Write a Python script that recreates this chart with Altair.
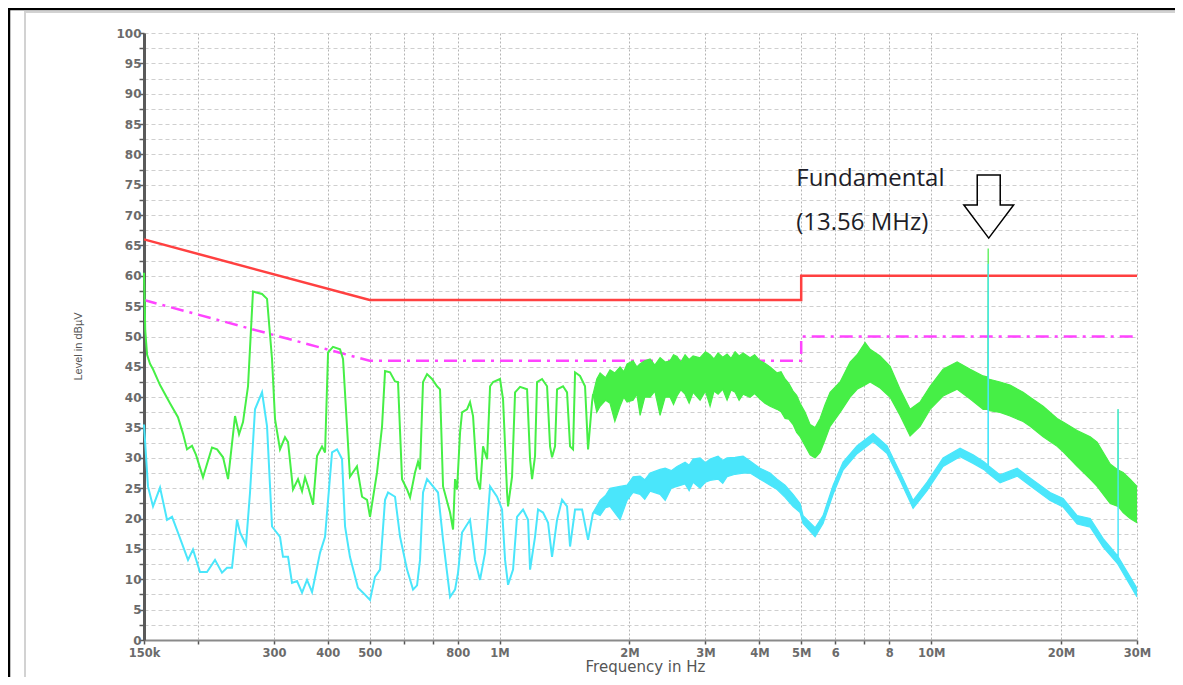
import altair as alt
import pandas as pd

# ---------------- data (frequency in MHz, level in dBuV) ----------------
limit_f = [0.15, 0.5, 5.0, 5.0, 30.0]
qp_limit = [66, 56, 56, 60, 60]
avg_limit = [56, 46, 46, 50, 50]

# green trace, low-frequency part (clean line)
green_low = [
    (0.150, 60.5), (0.1505, 56.0), (0.151, 51.0), (0.1525, 47.0), (0.1549, 45.5),
    (0.1574, 44.6), (0.1634, 42.0), (0.1723, 39.0), (0.1798, 36.7), (0.1847, 34.0),
    (0.1887, 31.4), (0.1938, 32.0), (0.1980, 30.5), (0.2055, 26.8), (0.2156, 31.7),
    (0.2215, 31.4), (0.2287, 30.1), (0.2349, 26.5), (0.2438, 36.9), (0.2491, 33.9),
    (0.2544, 35.9), (0.2613, 41.8), (0.2683, 57.4), (0.2816, 57.0), (0.2892, 56.2),
    (0.2970, 46.3), (0.3018, 36.4), (0.3099, 31.4), (0.3183, 33.4), (0.3235, 32.6),
    (0.3322, 24.8), (0.3412, 26.5), (0.3486, 24.5), (0.3542, 26.8), (0.3599, 25.3),
    (0.3697, 22.3), (0.3776, 30.3), (0.3878, 31.9), (0.3941, 30.9), (0.4005, 47.4),
    (0.4112, 48.3), (0.4269, 47.9), (0.4338, 46.3), (0.4501, 26.9), (0.4672, 28.6),
    (0.4801, 23.6), (0.4931, 23.1), (0.5010, 20.3), (0.5201, 27.6), (0.5342, 35.2),
    (0.5428, 44.3), (0.5575, 44.1), (0.5725, 42.6), (0.5817, 42.5), (0.5943, 26.5),
    (0.6104, 24.8), (0.6203, 23.5), (0.6369, 27.6), (0.6473, 29.4), (0.6542, 28.1),
    (0.6648, 42.5), (0.6792, 43.8), (0.6975, 43.0), (0.7163, 41.8), (0.7279, 41.3),
    (0.7397, 25.3), (0.7679, 21.0), (0.7803, 18.2), (0.7886, 26.5), (0.7971, 24.8),
    (0.8100, 34.2), (0.8186, 37.5), (0.8406, 38.0), (0.8542, 39.2), (0.8681, 36.9),
    (0.8868, 26.5), (0.9011, 24.8), (0.9157, 31.9), (0.9356, 29.8), (0.9507, 41.8),
    (0.9661, 42.5), (1.0025, 43.0), (1.0188, 39.7), (1.0409, 24.3), (1.0464, 22.0),
    (1.0690, 26.9), (1.0863, 40.8), (1.1157, 41.7), (1.1581, 41.3), (1.1768, 29.8),
    (1.1894, 26.5), (1.2084, 30.3), (1.2215, 42.5), (1.2545, 43.0), (1.2885, 41.8),
    (1.3092, 31.9), (1.3232, 30.1), (1.3446, 31.9), (1.3590, 41.3), (1.4031, 41.8),
    (1.4335, 40.8), (1.4567, 31.9), (1.4802, 31.4), (1.4960, 44.1), (1.5363, 43.5),
    (1.5779, 41.8), (1.6035, 31.4), (1.6381, 39.2), (1.6471, 40.5),
]

# green trace, noisy part: (freq, lower edge, upper edge)
green_band = [
    (1.6471, 40.5, 40.5), (1.680, 37.5, 43.0), (1.710, 38.5, 44.0), (1.760, 39.5, 43.2),
    (1.803, 39.0, 44.5), (1.850, 36.0, 44.0), (1.902, 38.5, 45.0), (1.940, 40.0, 44.2),
    (1.975, 39.2, 45.5), (2.039, 39.5, 46.0), (2.080, 40.5, 45.0), (2.117, 37.0, 45.5),
    (2.170, 40.0, 46.0), (2.233, 40.0, 46.3), (2.290, 41.0, 45.3), (2.355, 37.0, 46.5),
    (2.420, 40.0, 45.8), (2.484, 40.0, 46.0), (2.530, 38.8, 47.0), (2.578, 40.2, 46.7),
    (2.630, 41.2, 45.8), (2.691, 40.5, 47.0), (2.750, 39.0, 46.2), (2.809, 40.8, 46.8),
    (2.915, 39.5, 46.5), (3.000, 41.0, 47.5), (3.075, 38.5, 47.0), (3.140, 41.0, 46.3),
    (3.209, 40.5, 47.3), (3.290, 41.3, 46.6), (3.367, 39.5, 47.1), (3.440, 41.2, 46.4),
    (3.514, 40.8, 47.5), (3.590, 39.5, 46.8), (3.667, 40.5, 47.3), (3.806, 40.0, 46.5),
    (3.900, 40.6, 47.0), (4.015, 39.7, 46.0), (4.120, 39.0, 45.6), (4.235, 38.5, 45.0),
    (4.397, 38.0, 44.0), (4.490, 37.6, 44.2), (4.588, 36.5, 43.0), (4.680, 36.4, 42.3),
    (4.788, 35.5, 41.0), (4.880, 34.2, 40.3), (4.971, 33.5, 39.0), (5.105, 32.0, 37.5),
    (5.243, 30.5, 35.5), (5.385, 30.0, 35.0), (5.531, 30.9, 36.5), (5.680, 33.0, 38.8),
    (5.834, 35.2, 40.8), (6.153, 37.5, 42.5), (6.491, 40.0, 45.8), (6.738, 41.3, 47.0),
    (7.032, 42.0, 49.0), (7.222, 42.5, 47.9), (7.618, 41.5, 46.8), (8.036, 40.0, 45.1),
    (8.474, 37.0, 41.3), (8.940, 33.6, 38.0), (9.429, 35.2, 39.2), (9.947, 38.0, 41.8),
    (10.66, 40.2, 44.6), (11.49, 41.3, 45.8), (12.32, 39.7, 44.6), (13.20, 38.0, 43.5),
    (13.54, 38.0, 43.3), (13.56, 38.0, 64.5), (13.58, 37.8, 43.0), (14.45, 37.5, 42.5),
    (15.24, 36.9, 42.0), (16.34, 36.0, 40.8), (16.96, 35.2, 40.0), (18.18, 33.5, 38.5),
    (19.59, 31.9, 36.5), (20.23, 31.0, 35.9), (21.80, 28.6, 34.5), (23.37, 26.5, 33.5),
    (24.25, 25.3, 32.6), (26.0, 22.5, 29.0), (27.10, 22.0, 28.0), (27.12, 22.0, 38.0),
    (27.14, 22.0, 28.0), (27.86, 21.0, 27.6), (28.92, 20.0, 26.5), (30.0, 19.3, 25.3),
]

# cyan trace, low-frequency part
cyan_low = [
    (0.150, 35.5), (0.1532, 25.3), (0.1574, 22.0), (0.1634, 25.1), (0.1696, 19.8),
    (0.1742, 20.3), (0.1798, 17.7), (0.1897, 13.2), (0.1948, 14.9), (0.2022, 11.2),
    (0.2099, 11.2), (0.2191, 13.2), (0.2274, 11.1), (0.2336, 11.9), (0.2399, 11.9),
    (0.2464, 19.8), (0.2504, 17.7), (0.2585, 15.7), (0.2641, 24.3), (0.2712, 38.0),
    (0.2816, 40.8), (0.2892, 35.2), (0.2970, 18.7), (0.3099, 17.0), (0.3149, 13.7),
    (0.3235, 13.7), (0.3304, 9.4), (0.3394, 9.7), (0.3486, 7.8), (0.3580, 9.9),
    (0.3677, 7.9), (0.3838, 14.4), (0.3941, 17.0), (0.4091, 30.9), (0.4202, 31.4),
    (0.4315, 29.8), (0.4385, 18.7), (0.4501, 13.7), (0.4697, 8.6), (0.4826, 7.8),
    (0.5010, 6.6), (0.5145, 10.4), (0.5285, 11.6), (0.5428, 23.1), (0.5516, 24.3),
    (0.5725, 23.6), (0.5881, 17.0), (0.6104, 11.6), (0.6303, 8.3), (0.6439, 9.0),
    (0.6542, 13.2), (0.6648, 24.3), (0.6792, 26.5), (0.7012, 25.3), (0.7201, 24.3),
    (0.7397, 16.5), (0.7679, 7.1), (0.7886, 8.3), (0.8014, 11.1), (0.8186, 17.7),
    (0.8542, 19.8), (0.8772, 13.2), (0.9011, 9.9), (0.9256, 14.4), (0.9507, 25.3),
    (0.9867, 23.6), (1.0134, 21.5), (1.0298, 13.2), (1.0464, 9.1), (1.0747, 11.6),
    (1.0978, 20.3), (1.1336, 21.5), (1.1643, 19.8), (1.1768, 11.6), (1.2084, 17.0),
    (1.2280, 21.5), (1.2612, 21.0), (1.2954, 19.3), (1.3232, 13.7), (1.3590, 19.8),
    (1.3957, 23.1), (1.4335, 22.0), (1.4567, 15.4), (1.4960, 21.5), (1.5531, 21.5),
    (1.6035, 16.5), (1.6471, 21.0),
]

# cyan trace, noisy part: (freq, lower edge, upper edge)
cyan_band = [
    (1.6471, 21.0, 21.0), (1.710, 20.5, 23.0), (1.760, 21.8, 23.8), (1.803, 22.0, 25.0),
    (1.902, 19.8, 25.3), (1.975, 23.0, 25.5), (2.039, 24.3, 26.9), (2.117, 24.0, 27.0),
    (2.170, 23.2, 26.4), (2.233, 24.5, 27.5), (2.355, 24.0, 28.1), (2.420, 23.0, 28.3),
    (2.500, 25.0, 27.9), (2.578, 25.3, 28.6), (2.691, 25.7, 29.3), (2.750, 24.6, 28.8),
    (2.809, 26.0, 29.8), (2.915, 25.0, 30.0), (3.000, 26.0, 29.2), (3.075, 26.3, 29.8),
    (3.209, 26.5, 30.3), (3.290, 25.8, 29.6), (3.367, 26.9, 30.0), (3.514, 27.3, 30.1),
    (3.667, 27.5, 30.3), (3.806, 27.5, 29.5), (4.015, 26.5, 28.3), (4.235, 25.5, 27.5),
    (4.397, 24.8, 26.5), (4.588, 23.5, 25.5), (4.788, 22.0, 24.0), (4.971, 21.0, 22.5),
    (5.050, 19.2, 20.5), (5.385, 17.0, 18.5), (5.619, 19.2, 20.5), (5.929, 24.0, 25.5),
    (6.252, 28.0, 29.3), (6.738, 30.7, 32.0), (7.338, 32.7, 34.0), (7.908, 30.7, 32.0),
    (8.474, 26.3, 27.6), (9.084, 21.7, 23.0), (9.787, 24.6, 26.0), (10.66, 28.6, 30.0),
    (11.67, 30.2, 31.6), (12.51, 29.1, 30.5), (13.30, 28.0, 29.3), (13.54, 27.5, 28.8),
    (13.56, 27.5, 62.0), (13.58, 27.4, 28.7), (14.45, 25.9, 27.2), (15.83, 27.0, 28.3),
    (16.96, 25.4, 26.7), (18.87, 23.0, 24.3), (20.23, 21.9, 23.3), (21.80, 19.1, 20.5),
    (23.37, 18.6, 20.0), (25.05, 15.3, 16.7), (27.10, 12.5, 13.8), (27.12, 12.5, 38.0),
    (27.14, 12.4, 13.7), (30.0, 7.1, 8.5),
]

xtick_vals = [0.15, 0.2, 0.3, 0.4, 0.5, 0.6, 0.7, 0.8, 1, 2, 3, 4, 5, 6, 7, 8, 10, 20, 30]
xtick_labels = ["150k", "", "300", "400", "500", "", "", "800", "1M", "2M", "3M",
                "4M", "5M", "6", "", "8", "10M", "20M", "30M"]
ytick_vals = [i * 2.5 for i in range(41)]

annot_f = [4.87, 4.87]
annot_db = [74.8, 67.6]
annot_text = ["Fundamental", "(13.56 MHz)"]
arrow_f = [13.6]
arrow_db = [71.4]

# ---------------- styling ----------------
GREEN = "#46ef46"
CYAN = "#4ae6fb"
RED = "#ff4040"
MAGENTA = "#ff44ff"
W, H = 993, 607

xs = alt.Scale(type="log", domain=[0.15, 30], nice=False)
ys = alt.Scale(domain=[0, 100], nice=False, zero=False)

label_expr = ("[" + ",".join("'%s'" % l for l in xtick_labels) + "][indexof(["
              + ",".join(str(v) for v in xtick_vals) + "], datum.value)]")

x_axis = alt.Axis(values=xtick_vals, labelExpr=label_expr, title="Frequency in Hz",
                  grid=True, gridDash=[2, 2], gridColor="#b4b4b4", gridWidth=1,
                  domainColor="#8a8a8a", domainWidth=2, tickColor="#555", tickSize=4,
                  tickWidth=1.5, labelFont="DejaVu Sans", labelFontWeight="bold",
                  labelFontSize=11.5, labelColor="#6b6b6b", labelPadding=3,
                  labelOverlap=False, labelFlush=False,
                  titleFont="DejaVu Sans", titleFontSize=15, titleFontWeight="normal",
                  titleColor="#555", titleX=501, titleY=31, titleAlign="center",
                  titleBaseline="alphabetic")
y_axis = alt.Axis(values=ytick_vals, labelExpr="datum.value % 5 == 0 ? datum.label : ''",
                  title="Level in dBµV", grid=True, gridDash=[4, 3], gridColor="#cfcfcf",
                  gridWidth=1, domainColor="#5a5a5a", domainWidth=3, tickColor="#5a5a5a",
                  tickSize=5, tickWidth=1.5, labelFont="DejaVu Sans", labelFontWeight="bold",
                  labelFontSize=12, labelColor="#6b6b6b", labelPadding=-2,
                  labelOverlap=False, labelFlush=False,
                  titleFont="Liberation Sans", titleFontSize=11,
                  titleFontWeight="normal", titleColor="#555", titleX=-63, titleY=313,
                  titleAngle=270, titleAlign="center", titleBaseline="alphabetic")

lim_df = pd.DataFrame({"f": limit_f, "qp": qp_limit, "avg": avg_limit,
                       "i": list(range(len(limit_f)))})
gl_df = pd.DataFrame(green_low, columns=["f", "v"])
gb_df = pd.DataFrame(green_band, columns=["f", "lo", "hi"])
cl_df = pd.DataFrame(cyan_low, columns=["f", "v"])
cb_df = pd.DataFrame(cyan_band, columns=["f", "lo", "hi"])
ann_df = pd.DataFrame({"f": annot_f, "db": annot_db, "t": annot_text})
arr_df = pd.DataFrame({"f": arrow_f, "db": arrow_db})
one = pd.DataFrame({"a": [0]})

X = lambda fld="f": alt.X(fld, type="quantitative", scale=xs, axis=x_axis)
Y = lambda fld: alt.Y(fld, type="quantitative", scale=ys, axis=y_axis)

# decorative page frame (black) and inner panel edge (grey): top and left edges only
frame_top = alt.Chart(one).mark_rule(color="black", strokeWidth=2.5).encode(
    x=alt.value(-136), x2=alt.value(W + 300), y=alt.value(-24))
frame_left = alt.Chart(one).mark_rule(color="black", strokeWidth=2.5).encode(
    x=alt.value(-135), y=alt.value(-25), y2=alt.value(H + 300))
panel_top = alt.Chart(one).mark_rule(color="#d2d2d2", strokeWidth=2).encode(
    x=alt.value(-120), x2=alt.value(W + 300), y=alt.value(-21))
panel_left = alt.Chart(one).mark_rule(color="#d2d2d2", strokeWidth=2).encode(
    x=alt.value(-119), y=alt.value(-22), y2=alt.value(H + 300))

red = alt.Chart(lim_df).mark_line(color=RED, strokeWidth=2.5).encode(
    x=X(), y=Y("qp"), order="i:Q")
mag = alt.Chart(lim_df).mark_line(color=MAGENTA, strokeWidth=2.5,
                                  strokeDash=[13, 6, 3, 6]).encode(
    x=X(), y=Y("avg"), order="i:Q")

g_line = alt.Chart(gl_df).mark_line(color=GREEN, strokeWidth=2).encode(x=X(), y=Y("v"))
g_area = alt.Chart(gb_df).mark_area(color=GREEN, opacity=1).encode(
    x=X(), y=Y("lo"), y2="hi:Q")
g_lo = alt.Chart(gb_df).mark_line(color=GREEN, strokeWidth=1.2).encode(x=X(), y=Y("lo"))
g_hi = alt.Chart(gb_df).mark_line(color=GREEN, strokeWidth=1.2).encode(x=X(), y=Y("hi"))

c_line = alt.Chart(cl_df).mark_line(color=CYAN, strokeWidth=2).encode(x=X(), y=Y("v"))
c_area = alt.Chart(cb_df).mark_area(color=CYAN, opacity=1).encode(
    x=X(), y=Y("lo"), y2="hi:Q")
c_lo = alt.Chart(cb_df).mark_line(color=CYAN, strokeWidth=1.2).encode(x=X(), y=Y("lo"))
c_hi = alt.Chart(cb_df).mark_line(color=CYAN, strokeWidth=1.2).encode(x=X(), y=Y("hi"))

ann = alt.Chart(ann_df).mark_text(align="left", baseline="alphabetic", font="Open Sans",
                                  fontSize=24, color="#1e1e28").encode(
    x=X(), y=Y("db"), text="t:N")

arrow_path = "M -0.365 -1 L 0.365 -1 L 0.365 -0.05 L 0.79 -0.05 L 0 1 L -0.79 -0.05 L -0.365 -0.05 Z"
arrow = alt.Chart(arr_df).mark_point(shape=arrow_path, size=3969, filled=False,
                                     stroke="black", strokeWidth=1.5, opacity=1).encode(
    x=X(), y=Y("db"))

chart = alt.layer(frame_top, frame_left, panel_top, panel_left, red, mag,
                  g_line, g_area, g_lo, g_hi, c_line, c_area, c_lo, c_hi,
                  ann, arrow).properties(
    width=W, height=H, autosize="none",
    padding={"left": 136, "top": 25, "right": 38, "bottom": 37},
    background="white",
).configure_view(strokeWidth=0)

chart.save("out.html", embed_options={"renderer": "svg", "actions": False})
